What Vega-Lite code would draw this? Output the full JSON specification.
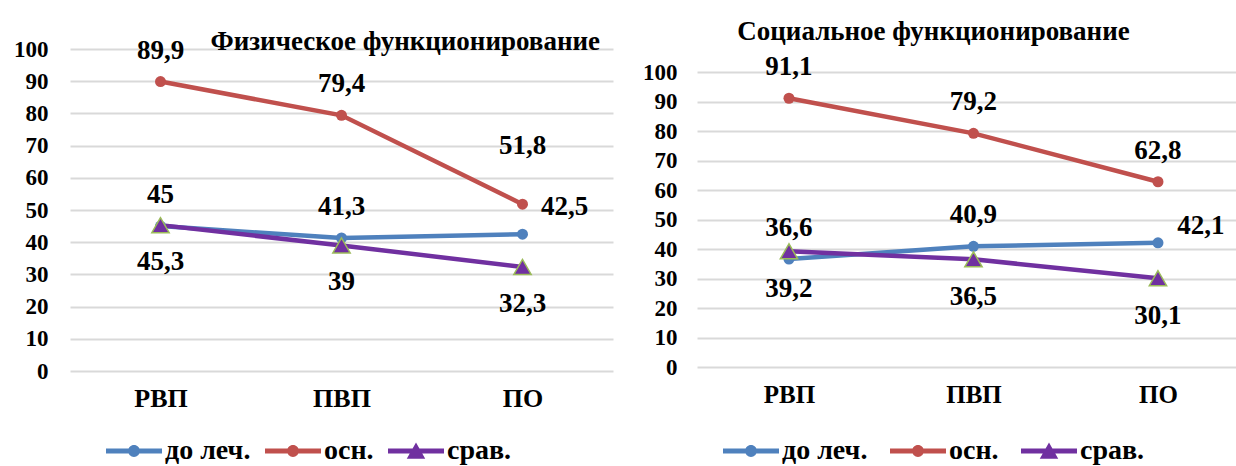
{
  "$schema": "https://vega.github.io/schema/vega-lite/v6.json",
  "padding": {"left": 13, "top": 18, "right": 0, "bottom": 0},
  "bounds": "flush",
  "spacing": 84,
  "config": {
    "font": "Liberation Serif",
    "mark": {"font": "Liberation Serif"},
    "text": {"font": "Liberation Serif"},
    "view": {"stroke": null},
    "locale": {"number": {"decimal": ",", "thousands": " ", "grouping": [3], "currency": ["", ""]}},
    "axis": {"labelFont": "Liberation Serif", "labelFontWeight": "bold", "labelColor": "#000000", "labelFontSize": 23, "domain": false, "ticks": false, "gridColor": "#D9D9D9", "gridWidth": 2, "title": null},
    "legend": {"labelFont": "Liberation Serif", "labelFontWeight": "bold", "labelFontSize": 28, "labelColor": "#000000", "labelOffset": 3, "symbolSize": 3136, "title": null, "orient": "none", "direction": "horizontal"},
    "title": {"font": "Liberation Serif", "fontWeight": "bold", "fontSize": 27, "color": "#000000"}
  },
  "datasets": {
    "phys": [
      {"cat": "РВП", "g": "до леч.", "v": 45},
      {"cat": "ПВП", "g": "до леч.", "v": 41.3},
      {"cat": "ПО", "g": "до леч.", "v": 42.5},
      {"cat": "РВП", "g": "осн.", "v": 89.9},
      {"cat": "ПВП", "g": "осн.", "v": 79.4},
      {"cat": "ПО", "g": "осн.", "v": 51.8},
      {"cat": "РВП", "g": "срав.", "v": 45.3},
      {"cat": "ПВП", "g": "срав.", "v": 39},
      {"cat": "ПО", "g": "срав.", "v": 32.3}
    ],
    "soc": [
      {"cat": "РВП", "g": "до леч.", "v": 36.6},
      {"cat": "ПВП", "g": "до леч.", "v": 40.9},
      {"cat": "ПО", "g": "до леч.", "v": 42.1},
      {"cat": "РВП", "g": "осн.", "v": 91.1},
      {"cat": "ПВП", "g": "осн.", "v": 79.2},
      {"cat": "ПО", "g": "осн.", "v": 62.8},
      {"cat": "РВП", "g": "срав.", "v": 39.2},
      {"cat": "ПВП", "g": "срав.", "v": 36.5},
      {"cat": "ПО", "g": "срав.", "v": 30.1}
    ]
  },
  "resolve": {"scale": {"color": "independent", "y": "independent", "x": "independent"}, "legend": {"color": "independent"}},
  "hconcat": [
    {
      "width": 543,
      "height": 322,
      "data": {"name": "phys"},
      "title": {"text": "Физическое функционирование", "anchor": "end", "offset": -40, "dx": -13, "baseline": "alphabetic"},
      "encoding": {
        "x": {"field": "cat", "type": "nominal", "sort": ["РВП", "ПВП", "ПО"], "scale": {"type": "point", "padding": 0.5}, "axis": {"labelAngle": 0, "labelFontSize": 26, "labelPadding": 14, "grid": false}},
        "y": {"field": "v", "type": "quantitative", "scale": {"domain": [0, 100], "nice": false}, "axis": {"values": [0, 10, 20, 30, 40, 50, 60, 70, 80, 90, 100], "grid": true, "labelPadding": 22}}
      },
      "layer": [
        {
          "mark": {"type": "line", "strokeCap": "round"},
          "encoding": {
            "color": {"field": "g", "type": "nominal", "scale": {"domain": ["до леч.", "осн.", "срав."], "range": ["#4F81BD", "#C0504D", "#7030A0"]},
              "legend": {"legendX": 36, "legendY": 374, "columnPadding": 14,
                "encode": {"symbols": {"update": {
                  "shape": {"signal": "datum.value === 'срав.' ? 'M-1,-0.09H1V0.09H-1Z M0,-0.3L0.33,0.28L-0.33,0.28Z' : 'M-1,-0.09H1V0.09H-1Z M0.21,0A0.21,0.21 0 1,1 -0.21,0A0.21,0.21 0 1,1 0.21,0Z'"},
                  "fill": {"signal": "datum.value === 'до леч.' ? '#4F81BD' : datum.value === 'осн.' ? '#C0504D' : '#7030A0'"},
                  "stroke": {"value": "transparent"},
                  "strokeWidth": {"value": 0},
                  "size": {"value": 3136},
                  "opacity": {"value": 1}
                }}}}},
            "strokeWidth": {"field": "g", "type": "ordinal", "scale": {"domain": ["до леч.", "осн.", "срав."], "range": [4.5, 4.5, 6.5]}, "legend": null}
          }
        },
        {
          "transform": [{"filter": "datum.g !== 'срав.'"}],
          "mark": {"type": "point", "filled": true, "shape": "circle", "size": 121, "opacity": 1},
          "encoding": {"color": {"field": "g", "type": "nominal"}}
        },
        {
          "transform": [{"filter": "datum.g === 'срав.'"}],
          "mark": {"type": "point", "filled": true, "shape": "triangle-up", "size": 300, "fill": "#7030A0", "stroke": "#9BBB59", "strokeWidth": 1.5, "opacity": 1}
        },
        {
          "transform": [{"filter": "(datum.g === 'до леч.' || datum.g === 'осн.') && datum.cat !== 'ПО'"}],
          "mark": {"type": "text", "fontSize": 27, "fontWeight": "bold", "color": "#000000", "baseline": "middle", "dy": -31},
          "encoding": {"text": {"field": "v", "type": "quantitative", "format": ".1~f"}}
        },
        {
          "transform": [{"filter": "datum.g === 'срав.'"}],
          "mark": {"type": "text", "fontSize": 27, "fontWeight": "bold", "color": "#000000", "baseline": "middle", "dy": 37},
          "encoding": {"text": {"field": "v", "type": "quantitative", "format": ".1~f"}}
        },
        {
          "transform": [{"filter": "datum.g === 'до леч.' && datum.cat === 'ПО'"}],
          "mark": {"type": "text", "fontSize": 27, "fontWeight": "bold", "color": "#000000", "baseline": "middle", "dx": 42, "dy": -27},
          "encoding": {"text": {"field": "v", "type": "quantitative", "format": ".1~f"}}
        },
        {
          "transform": [{"filter": "datum.g === 'осн.' && datum.cat === 'ПО'"}],
          "mark": {"type": "text", "fontSize": 27, "fontWeight": "bold", "color": "#000000", "baseline": "middle", "dy": -58},
          "encoding": {"text": {"field": "v", "type": "quantitative", "format": ".1~f"}}
        }
      ]
    },
    {
      "width": 539,
      "height": 318,
      "data": {"name": "soc"},
      "title": {"text": "Социальное функционирование", "anchor": "middle", "offset": -18, "dx": -33, "baseline": "alphabetic"},
      "encoding": {
        "x": {"field": "cat", "type": "nominal", "sort": ["РВП", "ПВП", "ПО"], "scale": {"type": "point", "padding": 0.4607, "align": 0.541}, "axis": {"labelAngle": 0, "labelFontSize": 25, "labelPadding": 15, "grid": false}},
        "y": {"field": "v", "type": "quantitative", "scale": {"domain": [0, 107.8], "nice": false}, "axis": {"values": [0, 10, 20, 30, 40, 50, 60, 70, 80, 90, 100], "grid": true, "labelPadding": 20}}
      },
      "layer": [
        {
          "mark": {"type": "line", "strokeCap": "round"},
          "encoding": {
            "color": {"field": "g", "type": "nominal", "scale": {"domain": ["до леч.", "осн.", "срав."], "range": ["#4F81BD", "#C0504D", "#7030A0"]},
              "legend": {"legendX": 26, "legendY": 374, "columnPadding": 22,
                "encode": {"symbols": {"update": {
                  "shape": {"signal": "datum.value === 'срав.' ? 'M-1,-0.09H1V0.09H-1Z M0,-0.3L0.33,0.28L-0.33,0.28Z' : 'M-1,-0.09H1V0.09H-1Z M0.21,0A0.21,0.21 0 1,1 -0.21,0A0.21,0.21 0 1,1 0.21,0Z'"},
                  "fill": {"signal": "datum.value === 'до леч.' ? '#4F81BD' : datum.value === 'осн.' ? '#C0504D' : '#7030A0'"},
                  "stroke": {"value": "transparent"},
                  "strokeWidth": {"value": 0},
                  "size": {"value": 3136},
                  "opacity": {"value": 1}
                }}}}},
            "strokeWidth": {"field": "g", "type": "ordinal", "scale": {"domain": ["до леч.", "осн.", "срав."], "range": [4.5, 4.5, 6.5]}, "legend": null}
          }
        },
        {
          "transform": [{"filter": "datum.g !== 'срав.'"}],
          "mark": {"type": "point", "filled": true, "shape": "circle", "size": 121, "opacity": 1},
          "encoding": {"color": {"field": "g", "type": "nominal"}}
        },
        {
          "transform": [{"filter": "datum.g === 'срав.'"}],
          "mark": {"type": "point", "filled": true, "shape": "triangle-up", "size": 300, "fill": "#7030A0", "stroke": "#9BBB59", "strokeWidth": 1.5, "opacity": 1}
        },
        {
          "transform": [{"filter": "datum.g === 'осн.' || (datum.g === 'до леч.' && datum.cat !== 'ПО')"}],
          "mark": {"type": "text", "fontSize": 27, "fontWeight": "bold", "color": "#000000", "baseline": "middle", "dy": -31},
          "encoding": {"text": {"field": "v", "type": "quantitative", "format": ".1~f"}}
        },
        {
          "transform": [{"filter": "datum.g === 'срав.'"}],
          "mark": {"type": "text", "fontSize": 27, "fontWeight": "bold", "color": "#000000", "baseline": "middle", "dy": 38},
          "encoding": {"text": {"field": "v", "type": "quantitative", "format": ".1~f"}}
        },
        {
          "transform": [{"filter": "datum.g === 'до леч.' && datum.cat === 'ПО'"}],
          "mark": {"type": "text", "fontSize": 27, "fontWeight": "bold", "color": "#000000", "baseline": "middle", "dx": 43, "dy": -17},
          "encoding": {"text": {"field": "v", "type": "quantitative", "format": ".1~f"}}
        }
      ]
    }
  ]
}
